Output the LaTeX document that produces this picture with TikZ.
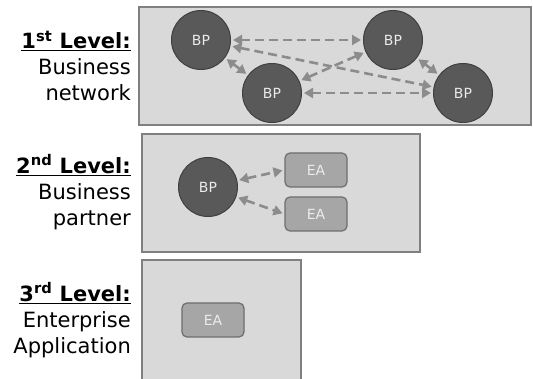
\documentclass[tikz,border=0pt]{standalone}
\usepackage{fontspec}
\setmainfont{DejaVu Sans}
\usetikzlibrary{arrows.meta}
\definecolor{panelfill}{HTML}{D9D9D9}
\definecolor{panelline}{HTML}{808080}
\definecolor{bpfill}{HTML}{595959}
\definecolor{bpline}{HTML}{404040}
\definecolor{eafill}{HTML}{A6A6A6}
\definecolor{ealine}{HTML}{6E6E6E}
\definecolor{linkgray}{HTML}{8C8C8C}
\tikzset{
  panel/.style={draw=panelline, fill=panelfill, line width=1.2pt},
  bp/.style={circle, draw=bpline, fill=bpfill, line width=1pt, minimum size=59pt, inner sep=0pt,
    text=white!92!black, font=\fontsize{14}{16}\selectfont},
  ea/.style={rectangle, rounded corners=5pt, draw=ealine, fill=eafill, line width=1.2pt,
    minimum width=62pt, minimum height=34pt, inner sep=0pt,
    text=white!92!black, font=\fontsize{14}{16}\selectfont},
  link/.style={draw=linkgray, line width=2.6pt, dash pattern=on 9pt off 5pt,
    {Triangle[length=9pt,width=10pt]}-{Triangle[length=9pt,width=10pt]}, shorten <=2pt, shorten >=2pt},
  lvl/.style={align=right, anchor=east, font=\fontsize{21}{26}\selectfont, inner sep=0pt}
}
\newcommand{\lvltitle}[2]{\textbf{\underline{#1\textsuperscript{#2} Level:}}}
\begin{document}
\begin{tikzpicture}[x=1pt, y=-1pt]
  \useasboundingbox (0,0) rectangle (533,379);
  \fill[white] (0,0) rectangle (533,379);

  % panels
  \draw[panel] (139,7) rectangle (531,125);
  \draw[panel] (142,134) rectangle (420,252);
  \draw[panel] (142,260) rectangle (301,380);

  % level labels
  \node[lvl] (l1) at (131,66) {\lvltitle{1}{st}\\Business\\network};
  \node[lvl] (l2) at (131,192) {\lvltitle{2}{nd}\\Business\\partner};
  \node[lvl] (l3) at (131,320) {\lvltitle{3}{rd}\\Enterprise\\Application};

  % business network
  \node[bp] (a) at (201,40) {BP};
  \node[bp] (b) at (393,40) {BP};
  \node[bp] (c) at (272,93) {BP};
  \node[bp] (d) at (463,93) {BP};
  \draw[link] (a) -- (b);
  \draw[link] (a) -- (c);
  \draw[link] (a) -- (d);
  \draw[link] (c) -- (b);
  \draw[link] (c) -- (d);
  \draw[link] (b) -- (d);

  % business partner
  \node[bp] (p) at (208,187) {BP};
  \node[ea] (e1) at (316,170) {EA};
  \node[ea] (e2) at (316,214) {EA};
  \draw[link] (p) -- (e1.west);
  \draw[link] (p) -- (e2.west);

  % enterprise application
  \node[ea] (e3) at (213,320) {EA};
\end{tikzpicture}
\end{document}
